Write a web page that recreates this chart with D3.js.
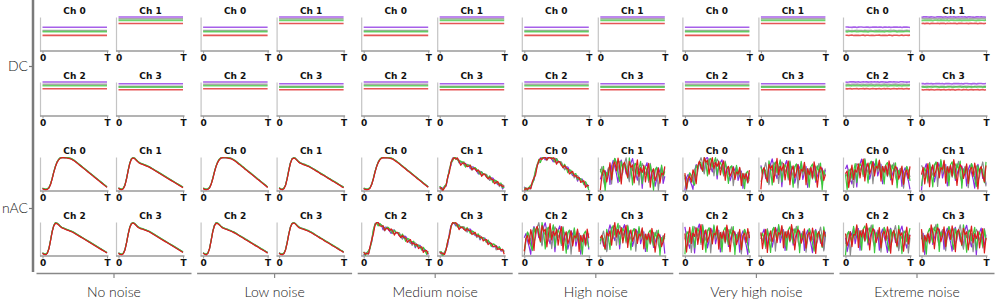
<!DOCTYPE html>
<html>
<head>
<meta charset="utf-8">
<script src="https://cdn.jsdelivr.net/npm/d3@7"></script>
<style>
  body { margin: 0; background: #fff; }
  svg { display: block; }
  .ttl, .tk text { font-family: 'DejaVu Sans', sans-serif; font-weight: bold; font-size: 9px; fill: #111; }
  .outer text { font-family: Lato, 'Liberation Sans', sans-serif; font-weight: 300; fill: #222; }
</style>
</head>
<body>
<svg id="chart" width="997" height="303"></svg>
<script>
const noiseLevels = ['No noise', 'Low noise', 'Medium noise', 'High noise', 'Very high noise', 'Extreme noise']
const rowNames = ['DC', 'nAC']
const channels = ['Ch 0', 'Ch 1', 'Ch 2', 'Ch 3']
const lineColors = ['#8a2be2', '#8c8c8c', '#3cc83c', '#dc1c1c']

// DC levels per channel (purple, gray, green, red)
const dcLevels = [
  [0.70, 0.60, 0.57, 0.46],
  [1.00, 0.95, 0.90, 0.81],
  [1.00, 0.93, 0.89, 0.80],
  [0.95, 0.87, 0.85, 0.77]
]

// clean nAC curves, 0..T
const cleanCh0 = [0.05, 0.03, 0.02, 0.03, 0.07, 0.18, 0.35, 0.55, 0.72, 0.85, 0.93, 0.98, 1.0, 1.0, 0.995, 0.99, 0.98, 0.97, 0.95, 0.92, 0.89,
  0.85, 0.81, 0.77, 0.73, 0.69, 0.65, 0.61, 0.57, 0.53, 0.49, 0.45, 0.41, 0.37, 0.33, 0.29, 0.25, 0.21, 0.17, 0.13, 0.09]
const cleanCh1 = [0.06, 0.03, 0.02, 0.05, 0.15, 0.35, 0.6, 0.82, 0.95, 0.99, 0.97, 0.92, 0.87, 0.83, 0.81, 0.79, 0.77, 0.75, 0.73, 0.71, 0.68,
  0.65, 0.62, 0.59, 0.56, 0.53, 0.5, 0.47, 0.44, 0.41, 0.38, 0.35, 0.32, 0.29, 0.26, 0.23, 0.2, 0.17, 0.14, 0.11, 0.08]
const cleanCh2 = [0.06, 0.03, 0.02, 0.06, 0.2, 0.45, 0.72, 0.9, 0.98, 0.97, 0.93, 0.88, 0.84, 0.82, 0.8, 0.78, 0.76, 0.74, 0.72, 0.7, 0.67,
  0.64, 0.61, 0.58, 0.55, 0.52, 0.49, 0.46, 0.43, 0.4, 0.37, 0.34, 0.31, 0.28, 0.25, 0.22, 0.19, 0.16, 0.13, 0.1, 0.07]
const cleanCh3 = [0.06, 0.03, 0.02, 0.05, 0.16, 0.38, 0.64, 0.85, 0.96, 0.99, 0.96, 0.91, 0.86, 0.83, 0.81, 0.8, 0.78, 0.76, 0.74, 0.72, 0.69,
  0.66, 0.63, 0.6, 0.57, 0.54, 0.51, 0.48, 0.45, 0.42, 0.39, 0.36, 0.33, 0.3, 0.27, 0.24, 0.21, 0.18, 0.15, 0.12, 0.09]
const cleanCurves = [cleanCh0, cleanCh1, cleanCh2, cleanCh3]

// jitter, one per line colour
const wobble = [
  [0.2, 0.5, -0.1, 0.4, -0.8, 0.3, 0.6, 0.1, -0.3, -0.9, 0.4, 0.7, 0.2, 0.5, -0.2, 0.1, -0.6, 0.6, 0.9, 0.3, -0.1, -0.5, 0.2, 0.4,
    -1.0, 0.3, 0.5, 0.8, 0.0, -0.3, 0.4, 0.2, -0.7, -0.2, 0.6, 0.3, 0.7, -0.4, 0.1, 0.5, -0.9, 0.2, 0.4, 0.0, 0.6, -0.5, -0.1, 0.3],
  [-0.3, 0.1, 0.6, 0.4, 0.8, -0.2, -0.6, 0.2, 0.5, 0.3, -0.9, 0.1, 0.7, 0.4, 0.0, 0.6, -0.4, -0.1, 0.5, 0.9, 0.2, -0.7, 0.3, 0.1,
    0.6, -0.3, 0.4, -0.8, 0.2, 0.7, 0.5, 0.0, 0.3, -0.5, 0.8, 0.1, -0.2, 0.4, 0.6, -1.0, 0.2, 0.5, -0.1, 0.7, 0.3, -0.6, 0.4, 0.1],
  [0.4, -0.2, 0.3, -0.9, 0.5, 0.7, 0.1, -0.4, 0.6, 0.2, 0.8, -1.0, 0.3, 0.0, 0.5, -0.6, 0.2, 0.7, 0.4, -0.3, -0.8, 0.6, 0.1, 0.5,
    0.3, -0.5, 0.9, 0.2, -0.9, 0.4, 0.6, -0.1, 0.3, 0.8, -0.7, 0.1, 0.5, 0.2, -0.4, 0.7, 0.0, -1.0, 0.4, 0.6, 0.2, -0.3, 0.8, 0.1],
  [0.1, 0.6, -0.4, 0.3, 0.2, 0.8, -0.7, 0.4, 0.0, 0.5, -0.2, 0.9, 0.3, -0.8, 0.2, 0.6, 0.4, -0.3, 0.1, 0.7, -0.6, 0.3, 0.5, -0.1,
    0.8, 0.2, -0.9, 0.4, 0.6, 0.0, -0.4, 0.7, 0.3, 0.5, -0.7, 0.2, 0.9, -0.2, 0.4, 0.1, 0.6, -0.5, 0.3, 0.8, -0.8, 0.2, 0.5, -0.3]
]
const colorOffset = [0.012, 0.008, 0.02, 0]

// per noise level, per channel
const noiseAmp = [
  [0, 0, 0, 0],
  [0.006, 0.006, 0.006, 0.006],
  [0.006, 0.08, 0.09, 0.08],
  [0.1, 0.45, 0.45, 0.42],
  [0.36, 0.45, 0.47, 0.45],
  [0.42, 0.46, 0.47, 0.46]
]
const signalKeep = [
  [1, 1, 1, 1],
  [1, 1, 1, 1],
  [1, 1, 1, 1],
  [1, 0.3, 0.25, 0.3],
  [0.5, 0.15, 0.15, 0.15],
  [0.25, 0.15, 0.15, 0.15]
]
const dcJitter = [0, 0, 0, 0, 0, 0.009]

const groupX0 = 40, groupStep = 160.6
const panelW = 67, panelGap = 76, panelH = 34
const rowTops = [17, 82, 157, 222]
const n = cleanCh0.length

const svg = d3.select('#chart')

function panelSeries(g, ch, isDC) {
  return lineColors.map(function(col, k) {
    return d3.range(n).map(function(i) {
      const w = wobble[k][(i + 7 * ch + 13 * g + 5 * k) % wobble[k].length]
      if (isDC) return dcLevels[ch][k] + dcJitter[g] * w
      const keep = signalKeep[g][ch]
      const v = keep * cleanCurves[ch][i] + (1 - keep) * 0.5 + noiseAmp[g][ch] * w + colorOffset[k]
      return Math.max(0, Math.min(1, v))
    })
  })
}

noiseLevels.forEach(function(level, g) {
  const gx = groupX0 + g * groupStep
  for (let r = 0; r < 4; r++) {
    for (let c = 0; c < 2; c++) {
      const ch = (r % 2) * 2 + c
      const isDC = r < 2
      const x0 = gx + c * panelGap
      const top = rowTops[r]
      const x = d3.scaleLinear().domain([0, n - 1]).range([x0 + 2.5, x0 + panelW])
      const y = d3.scaleLinear().domain(isDC ? [0, 1] : [-0.02, 1.02]).range([top + panelH, top])
      const p = svg.append('g')

      p.append('g')
        .attr('transform', `translate(${x0},0)`)
        .call(d3.axisLeft(y).tickValues([]).tickSizeOuter(0))
        .select('.domain').attr('stroke', '#c4c4c4').attr('stroke-width', 1.2)

      p.append('line')
        .attr('x1', x0).attr('x2', x0 + panelW + 1.5)
        .attr('y1', top + panelH).attr('y2', top + panelH)
        .attr('stroke', '#9a9a9a').attr('stroke-width', 1.4)

      const ax = p.append('g')
        .attr('class', 'tk')
        .attr('transform', `translate(0,${top + panelH})`)
        .call(d3.axisBottom(x).tickValues([0, n - 1]).tickFormat(d => d ? 'T' : '0').tickSize(2.5).tickPadding(1.5))
      ax.select('.domain').remove()
      ax.selectAll('line').attr('stroke', '#999')

      p.append('text')
        .attr('class', 'ttl')
        .attr('x', x0 + panelW / 2 + 1)
        .attr('y', top - 3)
        .attr('text-anchor', 'middle')
        .text(channels[ch])

      const line = d3.line().x((d, i) => x(i)).y(d => y(d))
      p.selectAll('path.s')
        .data(panelSeries(g, ch, isDC))
        .enter().append('path')
        .attr('class', 's')
        .attr('d', line)
        .attr('fill', 'none')
        .attr('stroke', (d, k) => lineColors[k])
        .attr('stroke-width', isDC ? 1.6 : 1.2)
        .attr('stroke-opacity', isDC ? 0.75 : 1)
        .attr('stroke-linejoin', 'round')
    }
  }

  const gAxis = svg.append('g')
    .attr('class', 'outer')
    .attr('transform', 'translate(0,273)')
    .call(d3.axisBottom(d3.scalePoint().domain([level]).range([gx - 4, gx + 151]).padding(0.5))
      .tickSize(5).tickSizeOuter(0).tickPadding(9))
  gAxis.select('.domain').attr('stroke', '#888').attr('stroke-width', 1.5)
  gAxis.selectAll('line').attr('stroke', '#888').attr('stroke-width', 1.2)
  gAxis.selectAll('text').style('font-size', '14px')
})

const left = svg.append('g')
  .attr('class', 'outer')
  .attr('transform', 'translate(33,0)')
  .call(d3.axisLeft(d3.scalePoint().domain(rowNames).range([66, 208])).tickSize(4).tickPadding(1))
left.select('.domain').remove()
left.selectAll('line').attr('stroke', '#777').attr('stroke-width', 1.2)
left.selectAll('text').style('font-size', '14px')
left.append('line')
  .attr('x1', 0).attr('x2', 0).attr('y1', 0).attr('y2', 272)
  .attr('stroke', '#7a7a7a').attr('stroke-width', 2.5)
</script>
</body>
</html>
